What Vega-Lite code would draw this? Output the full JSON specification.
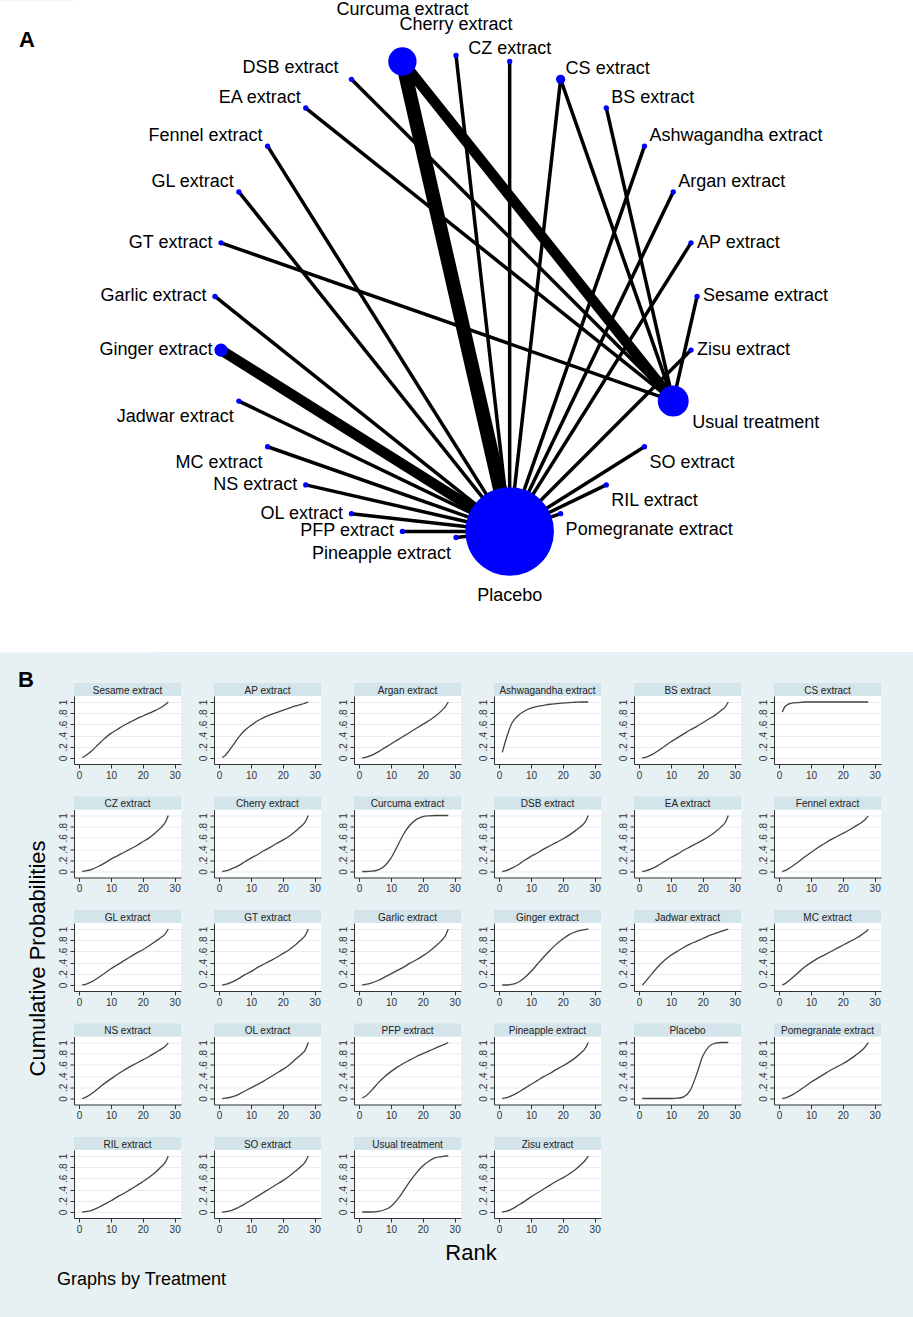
{
"$schema": "https://vega.github.io/schema/vega-lite/v6.json",
"background": "#e7f0f2",
"padding": {"left": 0, "top": 0, "right": 0, "bottom": 30},
"autosize": {"type": "pad"},
"columns": 1,
"align": "none",
"spacing": 16,
"config": {
  "view": {"stroke": null, "fill": "white"},
  "font": "Liberation Sans",
  "title": {"font": "Liberation Sans", "color": "#000000", "fontWeight": "normal"},
  "text": {"font": "Liberation Sans", "fontSize": 18, "color": "#000000"},
  "axis": {"labelOverlap": false, "labelBound": false}
},
"datasets": {
  "nodes": [
    {"id": "Cherry extract", "x": 0, "y": 1, "w": 3.6},
    {"id": "CZ extract", "x": 0.2225, "y": 0.9749, "w": 3.6},
    {"id": "CS extract", "x": 0.4339, "y": 0.901, "w": 11},
    {"id": "BS extract", "x": 0.6235, "y": 0.7818, "w": 3.6},
    {"id": "Ashwagandha extract", "x": 0.7818, "y": 0.6235, "w": 3.6},
    {"id": "Argan extract", "x": 0.901, "y": 0.4339, "w": 3.6},
    {"id": "AP extract", "x": 0.9749, "y": 0.2225, "w": 3.6},
    {"id": "Sesame extract", "x": 1, "y": 0, "w": 3.6},
    {"id": "Zisu extract", "x": 0.9749, "y": -0.2225, "w": 3.6},
    {"id": "Usual treatment", "x": 0.901, "y": -0.4339, "w": 122},
    {"id": "SO extract", "x": 0.7818, "y": -0.6235, "w": 3.6},
    {"id": "RIL extract", "x": 0.6235, "y": -0.7818, "w": 3.6},
    {"id": "Pomegranate extract", "x": 0.4339, "y": -0.901, "w": 3.6},
    {"id": "Placebo", "x": 0.2225, "y": -0.9749, "w": 1000},
    {"id": "Pineapple extract", "x": 0, "y": -1, "w": 3.6},
    {"id": "PFP extract", "x": -0.2225, "y": -0.9749, "w": 3.6},
    {"id": "OL extract", "x": -0.4339, "y": -0.901, "w": 3.6},
    {"id": "NS extract", "x": -0.6235, "y": -0.7818, "w": 3.6},
    {"id": "MC extract", "x": -0.7818, "y": -0.6235, "w": 3.6},
    {"id": "Jadwar extract", "x": -0.901, "y": -0.4339, "w": 3.6},
    {"id": "Ginger extract", "x": -0.9749, "y": -0.2225, "w": 22.5},
    {"id": "Garlic extract", "x": -1, "y": 0, "w": 3.6},
    {"id": "GT extract", "x": -0.9749, "y": 0.2225, "w": 3.6},
    {"id": "GL extract", "x": -0.901, "y": 0.4339, "w": 3.6},
    {"id": "Fennel extract", "x": -0.7818, "y": 0.6235, "w": 3.6},
    {"id": "EA extract", "x": -0.6235, "y": 0.7818, "w": 3.6},
    {"id": "DSB extract", "x": -0.4339, "y": 0.901, "w": 3.6},
    {"id": "Curcuma extract", "x": -0.2225, "y": 0.9749, "w": 102}
  ],
  "edges": [
    {"s": "Curcuma extract", "d": "Placebo", "k": 4},
    {"s": "Cherry extract", "d": "Placebo", "k": 1},
    {"s": "CZ extract", "d": "Placebo", "k": 1},
    {"s": "CS extract", "d": "Placebo", "k": 1},
    {"s": "Ashwagandha extract", "d": "Placebo", "k": 1},
    {"s": "Argan extract", "d": "Placebo", "k": 1},
    {"s": "AP extract", "d": "Placebo", "k": 1},
    {"s": "Zisu extract", "d": "Placebo", "k": 1},
    {"s": "SO extract", "d": "Placebo", "k": 1},
    {"s": "RIL extract", "d": "Placebo", "k": 1},
    {"s": "Pomegranate extract", "d": "Placebo", "k": 1},
    {"s": "Pineapple extract", "d": "Placebo", "k": 1},
    {"s": "PFP extract", "d": "Placebo", "k": 1},
    {"s": "OL extract", "d": "Placebo", "k": 1},
    {"s": "NS extract", "d": "Placebo", "k": 1},
    {"s": "MC extract", "d": "Placebo", "k": 1},
    {"s": "Jadwar extract", "d": "Placebo", "k": 1},
    {"s": "Ginger extract", "d": "Placebo", "k": 3},
    {"s": "Garlic extract", "d": "Placebo", "k": 1},
    {"s": "GL extract", "d": "Placebo", "k": 1},
    {"s": "Fennel extract", "d": "Placebo", "k": 1},
    {"s": "Curcuma extract", "d": "Usual treatment", "k": 3},
    {"s": "DSB extract", "d": "Usual treatment", "k": 1},
    {"s": "EA extract", "d": "Usual treatment", "k": 1},
    {"s": "GT extract", "d": "Usual treatment", "k": 1},
    {"s": "CS extract", "d": "Usual treatment", "k": 1},
    {"s": "BS extract", "d": "Usual treatment", "k": 1},
    {"s": "Sesame extract", "d": "Usual treatment", "k": 1}
  ],
  "curves": [
{"t":"Sesame extract","r":1,"p":0.01},{"t":"Sesame extract","r":2,"p":0.04},{"t":"Sesame extract","r":4,"p":0.13},{"t":"Sesame extract","r":6,"p":0.24},{"t":"Sesame extract","r":8,"p":0.35},{"t":"Sesame extract","r":10,"p":0.44},{"t":"Sesame extract","r":12,"p":0.51},{"t":"Sesame extract","r":14,"p":0.58},{"t":"Sesame extract","r":16,"p":0.64},{"t":"Sesame extract","r":18,"p":0.7},{"t":"Sesame extract","r":20,"p":0.75},{"t":"Sesame extract","r":22,"p":0.8},{"t":"Sesame extract","r":24,"p":0.85},{"t":"Sesame extract","r":26,"p":0.91},{"t":"Sesame extract","r":27,"p":0.95},{"t":"Sesame extract","r":28,"p":1},
{"t":"AP extract","r":1,"p":0.01},{"t":"AP extract","r":2,"p":0.05},{"t":"AP extract","r":4,"p":0.2},{"t":"AP extract","r":6,"p":0.36},{"t":"AP extract","r":8,"p":0.49},{"t":"AP extract","r":10,"p":0.58},{"t":"AP extract","r":12,"p":0.66},{"t":"AP extract","r":14,"p":0.72},{"t":"AP extract","r":16,"p":0.77},{"t":"AP extract","r":18,"p":0.81},{"t":"AP extract","r":20,"p":0.85},{"t":"AP extract","r":22,"p":0.89},{"t":"AP extract","r":24,"p":0.93},{"t":"AP extract","r":26,"p":0.96},{"t":"AP extract","r":27,"p":0.98},{"t":"AP extract","r":28,"p":1},
{"t":"Argan extract","r":1,"p":0},{"t":"Argan extract","r":2,"p":0.01},{"t":"Argan extract","r":4,"p":0.05},{"t":"Argan extract","r":6,"p":0.11},{"t":"Argan extract","r":8,"p":0.18},{"t":"Argan extract","r":10,"p":0.25},{"t":"Argan extract","r":12,"p":0.32},{"t":"Argan extract","r":14,"p":0.39},{"t":"Argan extract","r":16,"p":0.46},{"t":"Argan extract","r":18,"p":0.53},{"t":"Argan extract","r":20,"p":0.6},{"t":"Argan extract","r":22,"p":0.67},{"t":"Argan extract","r":24,"p":0.75},{"t":"Argan extract","r":26,"p":0.85},{"t":"Argan extract","r":27,"p":0.91},{"t":"Argan extract","r":28,"p":1},
{"t":"Ashwagandha extract","r":1,"p":0.1},{"t":"Ashwagandha extract","r":2,"p":0.3},{"t":"Ashwagandha extract","r":4,"p":0.62},{"t":"Ashwagandha extract","r":6,"p":0.76},{"t":"Ashwagandha extract","r":8,"p":0.84},{"t":"Ashwagandha extract","r":10,"p":0.89},{"t":"Ashwagandha extract","r":12,"p":0.92},{"t":"Ashwagandha extract","r":14,"p":0.94},{"t":"Ashwagandha extract","r":16,"p":0.96},{"t":"Ashwagandha extract","r":18,"p":0.97},{"t":"Ashwagandha extract","r":20,"p":0.98},{"t":"Ashwagandha extract","r":22,"p":0.99},{"t":"Ashwagandha extract","r":24,"p":0.995},{"t":"Ashwagandha extract","r":26,"p":1},{"t":"Ashwagandha extract","r":27,"p":1},{"t":"Ashwagandha extract","r":28,"p":1},
{"t":"BS extract","r":1,"p":0},{"t":"BS extract","r":2,"p":0.01},{"t":"BS extract","r":4,"p":0.06},{"t":"BS extract","r":6,"p":0.13},{"t":"BS extract","r":8,"p":0.21},{"t":"BS extract","r":10,"p":0.29},{"t":"BS extract","r":12,"p":0.36},{"t":"BS extract","r":14,"p":0.43},{"t":"BS extract","r":16,"p":0.5},{"t":"BS extract","r":18,"p":0.56},{"t":"BS extract","r":20,"p":0.63},{"t":"BS extract","r":22,"p":0.7},{"t":"BS extract","r":24,"p":0.77},{"t":"BS extract","r":26,"p":0.86},{"t":"BS extract","r":27,"p":0.91},{"t":"BS extract","r":28,"p":1},
{"t":"CS extract","r":1,"p":0.82},{"t":"CS extract","r":2,"p":0.93},{"t":"CS extract","r":4,"p":0.98},{"t":"CS extract","r":6,"p":0.99},{"t":"CS extract","r":8,"p":1},{"t":"CS extract","r":10,"p":1},{"t":"CS extract","r":12,"p":1},{"t":"CS extract","r":14,"p":1},{"t":"CS extract","r":16,"p":1},{"t":"CS extract","r":18,"p":1},{"t":"CS extract","r":20,"p":1},{"t":"CS extract","r":22,"p":1},{"t":"CS extract","r":24,"p":1},{"t":"CS extract","r":26,"p":1},{"t":"CS extract","r":27,"p":1},{"t":"CS extract","r":28,"p":1},
{"t":"CZ extract","r":1,"p":0},{"t":"CZ extract","r":2,"p":0.01},{"t":"CZ extract","r":4,"p":0.04},{"t":"CZ extract","r":6,"p":0.09},{"t":"CZ extract","r":8,"p":0.15},{"t":"CZ extract","r":10,"p":0.22},{"t":"CZ extract","r":12,"p":0.28},{"t":"CZ extract","r":14,"p":0.34},{"t":"CZ extract","r":16,"p":0.4},{"t":"CZ extract","r":18,"p":0.46},{"t":"CZ extract","r":20,"p":0.53},{"t":"CZ extract","r":22,"p":0.6},{"t":"CZ extract","r":24,"p":0.69},{"t":"CZ extract","r":26,"p":0.8},{"t":"CZ extract","r":27,"p":0.87},{"t":"CZ extract","r":28,"p":1},
{"t":"Cherry extract","r":1,"p":0},{"t":"Cherry extract","r":2,"p":0.01},{"t":"Cherry extract","r":4,"p":0.05},{"t":"Cherry extract","r":6,"p":0.1},{"t":"Cherry extract","r":8,"p":0.17},{"t":"Cherry extract","r":10,"p":0.24},{"t":"Cherry extract","r":12,"p":0.3},{"t":"Cherry extract","r":14,"p":0.37},{"t":"Cherry extract","r":16,"p":0.43},{"t":"Cherry extract","r":18,"p":0.5},{"t":"Cherry extract","r":20,"p":0.56},{"t":"Cherry extract","r":22,"p":0.63},{"t":"Cherry extract","r":24,"p":0.72},{"t":"Cherry extract","r":26,"p":0.82},{"t":"Cherry extract","r":27,"p":0.88},{"t":"Cherry extract","r":28,"p":1},
{"t":"Curcuma extract","r":1,"p":0},{"t":"Curcuma extract","r":2,"p":0},{"t":"Curcuma extract","r":4,"p":0.005},{"t":"Curcuma extract","r":6,"p":0.03},{"t":"Curcuma extract","r":8,"p":0.1},{"t":"Curcuma extract","r":10,"p":0.24},{"t":"Curcuma extract","r":12,"p":0.45},{"t":"Curcuma extract","r":14,"p":0.67},{"t":"Curcuma extract","r":16,"p":0.83},{"t":"Curcuma extract","r":18,"p":0.93},{"t":"Curcuma extract","r":20,"p":0.98},{"t":"Curcuma extract","r":22,"p":0.995},{"t":"Curcuma extract","r":24,"p":1},{"t":"Curcuma extract","r":26,"p":1},{"t":"Curcuma extract","r":27,"p":1},{"t":"Curcuma extract","r":28,"p":1},
{"t":"DSB extract","r":1,"p":0},{"t":"DSB extract","r":2,"p":0.01},{"t":"DSB extract","r":4,"p":0.06},{"t":"DSB extract","r":6,"p":0.12},{"t":"DSB extract","r":8,"p":0.2},{"t":"DSB extract","r":10,"p":0.27},{"t":"DSB extract","r":12,"p":0.33},{"t":"DSB extract","r":14,"p":0.4},{"t":"DSB extract","r":16,"p":0.46},{"t":"DSB extract","r":18,"p":0.52},{"t":"DSB extract","r":20,"p":0.58},{"t":"DSB extract","r":22,"p":0.65},{"t":"DSB extract","r":24,"p":0.73},{"t":"DSB extract","r":26,"p":0.82},{"t":"DSB extract","r":27,"p":0.88},{"t":"DSB extract","r":28,"p":1},
{"t":"EA extract","r":1,"p":0},{"t":"EA extract","r":2,"p":0.01},{"t":"EA extract","r":4,"p":0.05},{"t":"EA extract","r":6,"p":0.11},{"t":"EA extract","r":8,"p":0.18},{"t":"EA extract","r":10,"p":0.25},{"t":"EA extract","r":12,"p":0.31},{"t":"EA extract","r":14,"p":0.38},{"t":"EA extract","r":16,"p":0.44},{"t":"EA extract","r":18,"p":0.5},{"t":"EA extract","r":20,"p":0.56},{"t":"EA extract","r":22,"p":0.63},{"t":"EA extract","r":24,"p":0.71},{"t":"EA extract","r":26,"p":0.81},{"t":"EA extract","r":27,"p":0.87},{"t":"EA extract","r":28,"p":1},
{"t":"Fennel extract","r":1,"p":0},{"t":"Fennel extract","r":2,"p":0.02},{"t":"Fennel extract","r":4,"p":0.09},{"t":"Fennel extract","r":6,"p":0.17},{"t":"Fennel extract","r":8,"p":0.26},{"t":"Fennel extract","r":10,"p":0.34},{"t":"Fennel extract","r":12,"p":0.42},{"t":"Fennel extract","r":14,"p":0.49},{"t":"Fennel extract","r":16,"p":0.56},{"t":"Fennel extract","r":18,"p":0.62},{"t":"Fennel extract","r":20,"p":0.68},{"t":"Fennel extract","r":22,"p":0.74},{"t":"Fennel extract","r":24,"p":0.81},{"t":"Fennel extract","r":26,"p":0.88},{"t":"Fennel extract","r":27,"p":0.93},{"t":"Fennel extract","r":28,"p":0.99},
{"t":"GL extract","r":1,"p":0},{"t":"GL extract","r":2,"p":0.01},{"t":"GL extract","r":4,"p":0.06},{"t":"GL extract","r":6,"p":0.13},{"t":"GL extract","r":8,"p":0.21},{"t":"GL extract","r":10,"p":0.29},{"t":"GL extract","r":12,"p":0.36},{"t":"GL extract","r":14,"p":0.43},{"t":"GL extract","r":16,"p":0.5},{"t":"GL extract","r":18,"p":0.57},{"t":"GL extract","r":20,"p":0.63},{"t":"GL extract","r":22,"p":0.7},{"t":"GL extract","r":24,"p":0.78},{"t":"GL extract","r":26,"p":0.86},{"t":"GL extract","r":27,"p":0.91},{"t":"GL extract","r":28,"p":1},
{"t":"GT extract","r":1,"p":0},{"t":"GT extract","r":2,"p":0.01},{"t":"GT extract","r":4,"p":0.05},{"t":"GT extract","r":6,"p":0.11},{"t":"GT extract","r":8,"p":0.18},{"t":"GT extract","r":10,"p":0.24},{"t":"GT extract","r":12,"p":0.31},{"t":"GT extract","r":14,"p":0.37},{"t":"GT extract","r":16,"p":0.43},{"t":"GT extract","r":18,"p":0.49},{"t":"GT extract","r":20,"p":0.56},{"t":"GT extract","r":22,"p":0.63},{"t":"GT extract","r":24,"p":0.72},{"t":"GT extract","r":26,"p":0.82},{"t":"GT extract","r":27,"p":0.88},{"t":"GT extract","r":28,"p":1},
{"t":"Garlic extract","r":1,"p":0},{"t":"Garlic extract","r":2,"p":0.01},{"t":"Garlic extract","r":4,"p":0.04},{"t":"Garlic extract","r":6,"p":0.08},{"t":"Garlic extract","r":8,"p":0.14},{"t":"Garlic extract","r":10,"p":0.2},{"t":"Garlic extract","r":12,"p":0.26},{"t":"Garlic extract","r":14,"p":0.32},{"t":"Garlic extract","r":16,"p":0.39},{"t":"Garlic extract","r":18,"p":0.45},{"t":"Garlic extract","r":20,"p":0.52},{"t":"Garlic extract","r":22,"p":0.6},{"t":"Garlic extract","r":24,"p":0.69},{"t":"Garlic extract","r":26,"p":0.8},{"t":"Garlic extract","r":27,"p":0.87},{"t":"Garlic extract","r":28,"p":1},
{"t":"Ginger extract","r":1,"p":0},{"t":"Ginger extract","r":2,"p":0},{"t":"Ginger extract","r":4,"p":0.01},{"t":"Ginger extract","r":6,"p":0.05},{"t":"Ginger extract","r":8,"p":0.13},{"t":"Ginger extract","r":10,"p":0.24},{"t":"Ginger extract","r":12,"p":0.37},{"t":"Ginger extract","r":14,"p":0.5},{"t":"Ginger extract","r":16,"p":0.62},{"t":"Ginger extract","r":18,"p":0.73},{"t":"Ginger extract","r":20,"p":0.82},{"t":"Ginger extract","r":22,"p":0.9},{"t":"Ginger extract","r":24,"p":0.95},{"t":"Ginger extract","r":26,"p":0.98},{"t":"Ginger extract","r":27,"p":0.99},{"t":"Ginger extract","r":28,"p":1},
{"t":"Jadwar extract","r":1,"p":0},{"t":"Jadwar extract","r":2,"p":0.06},{"t":"Jadwar extract","r":4,"p":0.2},{"t":"Jadwar extract","r":6,"p":0.33},{"t":"Jadwar extract","r":8,"p":0.44},{"t":"Jadwar extract","r":10,"p":0.53},{"t":"Jadwar extract","r":12,"p":0.6},{"t":"Jadwar extract","r":14,"p":0.67},{"t":"Jadwar extract","r":16,"p":0.73},{"t":"Jadwar extract","r":18,"p":0.78},{"t":"Jadwar extract","r":20,"p":0.83},{"t":"Jadwar extract","r":22,"p":0.88},{"t":"Jadwar extract","r":24,"p":0.92},{"t":"Jadwar extract","r":26,"p":0.96},{"t":"Jadwar extract","r":27,"p":0.98},{"t":"Jadwar extract","r":28,"p":1},
{"t":"MC extract","r":1,"p":0},{"t":"MC extract","r":2,"p":0.03},{"t":"MC extract","r":4,"p":0.12},{"t":"MC extract","r":6,"p":0.22},{"t":"MC extract","r":8,"p":0.32},{"t":"MC extract","r":10,"p":0.4},{"t":"MC extract","r":12,"p":0.47},{"t":"MC extract","r":14,"p":0.53},{"t":"MC extract","r":16,"p":0.59},{"t":"MC extract","r":18,"p":0.65},{"t":"MC extract","r":20,"p":0.71},{"t":"MC extract","r":22,"p":0.77},{"t":"MC extract","r":24,"p":0.83},{"t":"MC extract","r":26,"p":0.9},{"t":"MC extract","r":27,"p":0.94},{"t":"MC extract","r":28,"p":0.99},
{"t":"NS extract","r":1,"p":0},{"t":"NS extract","r":2,"p":0.02},{"t":"NS extract","r":4,"p":0.09},{"t":"NS extract","r":6,"p":0.18},{"t":"NS extract","r":8,"p":0.27},{"t":"NS extract","r":10,"p":0.35},{"t":"NS extract","r":12,"p":0.43},{"t":"NS extract","r":14,"p":0.5},{"t":"NS extract","r":16,"p":0.57},{"t":"NS extract","r":18,"p":0.63},{"t":"NS extract","r":20,"p":0.69},{"t":"NS extract","r":22,"p":0.75},{"t":"NS extract","r":24,"p":0.82},{"t":"NS extract","r":26,"p":0.89},{"t":"NS extract","r":27,"p":0.93},{"t":"NS extract","r":28,"p":0.99},
{"t":"OL extract","r":1,"p":0},{"t":"OL extract","r":2,"p":0.005},{"t":"OL extract","r":4,"p":0.03},{"t":"OL extract","r":6,"p":0.07},{"t":"OL extract","r":8,"p":0.13},{"t":"OL extract","r":10,"p":0.19},{"t":"OL extract","r":12,"p":0.25},{"t":"OL extract","r":14,"p":0.31},{"t":"OL extract","r":16,"p":0.38},{"t":"OL extract","r":18,"p":0.45},{"t":"OL extract","r":20,"p":0.52},{"t":"OL extract","r":22,"p":0.6},{"t":"OL extract","r":24,"p":0.7},{"t":"OL extract","r":26,"p":0.8},{"t":"OL extract","r":27,"p":0.86},{"t":"OL extract","r":28,"p":1},
{"t":"PFP extract","r":1,"p":0.01},{"t":"PFP extract","r":2,"p":0.04},{"t":"PFP extract","r":4,"p":0.15},{"t":"PFP extract","r":6,"p":0.28},{"t":"PFP extract","r":8,"p":0.39},{"t":"PFP extract","r":10,"p":0.48},{"t":"PFP extract","r":12,"p":0.56},{"t":"PFP extract","r":14,"p":0.63},{"t":"PFP extract","r":16,"p":0.69},{"t":"PFP extract","r":18,"p":0.75},{"t":"PFP extract","r":20,"p":0.8},{"t":"PFP extract","r":22,"p":0.85},{"t":"PFP extract","r":24,"p":0.9},{"t":"PFP extract","r":26,"p":0.95},{"t":"PFP extract","r":27,"p":0.97},{"t":"PFP extract","r":28,"p":1},
{"t":"Pineapple extract","r":1,"p":0},{"t":"Pineapple extract","r":2,"p":0.01},{"t":"Pineapple extract","r":4,"p":0.05},{"t":"Pineapple extract","r":6,"p":0.11},{"t":"Pineapple extract","r":8,"p":0.18},{"t":"Pineapple extract","r":10,"p":0.25},{"t":"Pineapple extract","r":12,"p":0.32},{"t":"Pineapple extract","r":14,"p":0.39},{"t":"Pineapple extract","r":16,"p":0.45},{"t":"Pineapple extract","r":18,"p":0.52},{"t":"Pineapple extract","r":20,"p":0.58},{"t":"Pineapple extract","r":22,"p":0.65},{"t":"Pineapple extract","r":24,"p":0.73},{"t":"Pineapple extract","r":26,"p":0.83},{"t":"Pineapple extract","r":27,"p":0.89},{"t":"Pineapple extract","r":28,"p":1},
{"t":"Placebo","r":1,"p":0},{"t":"Placebo","r":2,"p":0},{"t":"Placebo","r":4,"p":0},{"t":"Placebo","r":6,"p":0},{"t":"Placebo","r":8,"p":0},{"t":"Placebo","r":10,"p":0},{"t":"Placebo","r":12,"p":0.005},{"t":"Placebo","r":14,"p":0.03},{"t":"Placebo","r":16,"p":0.14},{"t":"Placebo","r":18,"p":0.42},{"t":"Placebo","r":20,"p":0.76},{"t":"Placebo","r":22,"p":0.93},{"t":"Placebo","r":24,"p":0.99},{"t":"Placebo","r":26,"p":1},{"t":"Placebo","r":27,"p":1},{"t":"Placebo","r":28,"p":1},
{"t":"Pomegranate extract","r":1,"p":0},{"t":"Pomegranate extract","r":2,"p":0.01},{"t":"Pomegranate extract","r":4,"p":0.06},{"t":"Pomegranate extract","r":6,"p":0.13},{"t":"Pomegranate extract","r":8,"p":0.21},{"t":"Pomegranate extract","r":10,"p":0.29},{"t":"Pomegranate extract","r":12,"p":0.36},{"t":"Pomegranate extract","r":14,"p":0.43},{"t":"Pomegranate extract","r":16,"p":0.5},{"t":"Pomegranate extract","r":18,"p":0.56},{"t":"Pomegranate extract","r":20,"p":0.62},{"t":"Pomegranate extract","r":22,"p":0.69},{"t":"Pomegranate extract","r":24,"p":0.77},{"t":"Pomegranate extract","r":26,"p":0.86},{"t":"Pomegranate extract","r":27,"p":0.92},{"t":"Pomegranate extract","r":28,"p":1},
{"t":"RIL extract","r":1,"p":0},{"t":"RIL extract","r":2,"p":0.005},{"t":"RIL extract","r":4,"p":0.03},{"t":"RIL extract","r":6,"p":0.08},{"t":"RIL extract","r":8,"p":0.14},{"t":"RIL extract","r":10,"p":0.2},{"t":"RIL extract","r":12,"p":0.27},{"t":"RIL extract","r":14,"p":0.33},{"t":"RIL extract","r":16,"p":0.4},{"t":"RIL extract","r":18,"p":0.47},{"t":"RIL extract","r":20,"p":0.54},{"t":"RIL extract","r":22,"p":0.62},{"t":"RIL extract","r":24,"p":0.71},{"t":"RIL extract","r":26,"p":0.82},{"t":"RIL extract","r":27,"p":0.88},{"t":"RIL extract","r":28,"p":1},
{"t":"SO extract","r":1,"p":0},{"t":"SO extract","r":2,"p":0.005},{"t":"SO extract","r":4,"p":0.03},{"t":"SO extract","r":6,"p":0.08},{"t":"SO extract","r":8,"p":0.14},{"t":"SO extract","r":10,"p":0.21},{"t":"SO extract","r":12,"p":0.28},{"t":"SO extract","r":14,"p":0.35},{"t":"SO extract","r":16,"p":0.42},{"t":"SO extract","r":18,"p":0.49},{"t":"SO extract","r":20,"p":0.56},{"t":"SO extract","r":22,"p":0.64},{"t":"SO extract","r":24,"p":0.73},{"t":"SO extract","r":26,"p":0.83},{"t":"SO extract","r":27,"p":0.89},{"t":"SO extract","r":28,"p":1},
{"t":"Usual treatment","r":1,"p":0},{"t":"Usual treatment","r":2,"p":0},{"t":"Usual treatment","r":4,"p":0},{"t":"Usual treatment","r":6,"p":0.01},{"t":"Usual treatment","r":8,"p":0.04},{"t":"Usual treatment","r":10,"p":0.1},{"t":"Usual treatment","r":12,"p":0.22},{"t":"Usual treatment","r":14,"p":0.38},{"t":"Usual treatment","r":16,"p":0.55},{"t":"Usual treatment","r":18,"p":0.7},{"t":"Usual treatment","r":20,"p":0.82},{"t":"Usual treatment","r":22,"p":0.91},{"t":"Usual treatment","r":24,"p":0.97},{"t":"Usual treatment","r":26,"p":0.99},{"t":"Usual treatment","r":27,"p":1},{"t":"Usual treatment","r":28,"p":1},
{"t":"Zisu extract","r":1,"p":0},{"t":"Zisu extract","r":2,"p":0.01},{"t":"Zisu extract","r":4,"p":0.05},{"t":"Zisu extract","r":6,"p":0.12},{"t":"Zisu extract","r":8,"p":0.19},{"t":"Zisu extract","r":10,"p":0.27},{"t":"Zisu extract","r":12,"p":0.34},{"t":"Zisu extract","r":14,"p":0.41},{"t":"Zisu extract","r":16,"p":0.48},{"t":"Zisu extract","r":18,"p":0.55},{"t":"Zisu extract","r":20,"p":0.61},{"t":"Zisu extract","r":22,"p":0.68},{"t":"Zisu extract","r":24,"p":0.76},{"t":"Zisu extract","r":26,"p":0.86},{"t":"Zisu extract","r":27,"p":0.92},{"t":"Zisu extract","r":28,"p":1}
  ]
},
"concat": [
  {
    "width": 840,
    "height": 652,
    "view": {"fill": "white", "stroke": null},
    "title": {"text": "A", "orient": "top", "anchor": "start", "frame": "group", "fontSize": 22, "fontWeight": "bold", "baseline": "alphabetic", "offset": -69, "dx": -55},
    "data": {"name": "nodes"},
    "encoding": {
      "x": {"field": "x", "type": "quantitative", "scale": {"domain": [-1.585, 1.9], "nice": false, "zero": false}, "axis": null},
      "y": {"field": "y", "type": "quantitative", "scale": {"domain": [-1.475, 1.23], "nice": false, "zero": false},
        "axis": {"orient": "left", "title": null, "domain": true, "domainColor": "#ffffff", "domainWidth": 156, "ticks": false, "labels": false, "grid": false, "zindex": 0}}
    },
    "layer": [
      {
        "data": {"name": "edges"},
        "transform": [
          {"lookup": "s", "from": {"data": {"name": "nodes"}, "key": "id", "fields": ["x", "y"]}, "as": ["sx", "sy"]},
          {"lookup": "d", "from": {"data": {"name": "nodes"}, "key": "id", "fields": ["x", "y"]}, "as": ["tx", "ty"]}
        ],
        "mark": {"type": "rule", "color": "#000000", "strokeCap": "butt"},
        "encoding": {
          "x": {"field": "sx", "type": "quantitative"},
          "y": {"field": "sy", "type": "quantitative"},
          "x2": {"field": "tx"},
          "y2": {"field": "ty"},
          "strokeWidth": {"field": "k", "type": "quantitative", "scale": {"domain": [0, 4], "range": [0, 14]}, "legend": null}
        }
      },
      {
        "mark": {"type": "circle", "color": "#0000ff", "opacity": 1},
        "encoding": {
          "size": {"field": "w", "type": "quantitative", "scale": {"domain": [0, 1000], "range": [0, 7854]}, "legend": null}
        }
      },
      {"transform": [{"filter": {"field": "id", "oneOf": ["Fennel extract", "GL extract", "EA extract"]}}],
       "mark": {"type": "text", "align": "right", "baseline": "middle", "dx": -5, "dy": -10},
       "encoding": {"text": {"field": "id"}}},
      {"transform": [{"filter": {"field": "id", "oneOf": ["DSB extract"]}}],
       "mark": {"type": "text", "align": "right", "baseline": "middle", "dx": -13, "dy": -11},
       "encoding": {"text": {"field": "id"}}},
      {"transform": [{"filter": {"field": "id", "oneOf": ["GT extract", "Garlic extract", "Ginger extract", "NS extract", "OL extract", "PFP extract"]}}],
       "mark": {"type": "text", "align": "right", "baseline": "middle", "dx": -8.5, "dy": 0},
       "encoding": {"text": {"field": "id"}}},
      {"transform": [{"filter": {"field": "id", "oneOf": ["Jadwar extract", "MC extract", "Pineapple extract"]}}],
       "mark": {"type": "text", "align": "right", "baseline": "middle", "dx": -5, "dy": 16},
       "encoding": {"text": {"field": "id"}}},
      {"transform": [{"filter": {"field": "id", "oneOf": ["CS extract", "BS extract", "Ashwagandha extract", "Argan extract"]}}],
       "mark": {"type": "text", "align": "left", "baseline": "middle", "dx": 5, "dy": -10},
       "encoding": {"text": {"field": "id"}}},
      {"transform": [{"filter": {"field": "id", "oneOf": ["AP extract", "Sesame extract", "Zisu extract"]}}],
       "mark": {"type": "text", "align": "left", "baseline": "middle", "dx": 6, "dy": 0},
       "encoding": {"text": {"field": "id"}}},
      {"transform": [{"filter": {"field": "id", "oneOf": ["Usual treatment"]}}],
       "mark": {"type": "text", "align": "left", "baseline": "middle", "dx": 19, "dy": 22},
       "encoding": {"text": {"field": "id"}}},
      {"transform": [{"filter": {"field": "id", "oneOf": ["SO extract", "RIL extract", "Pomegranate extract"]}}],
       "mark": {"type": "text", "align": "left", "baseline": "middle", "dx": 5, "dy": 16},
       "encoding": {"text": {"field": "id"}}},
      {"transform": [{"filter": {"field": "id", "oneOf": ["Curcuma extract"]}}],
       "mark": {"type": "text", "align": "center", "baseline": "middle", "dy": -51},
       "encoding": {"text": {"field": "id"}}},
      {"transform": [{"filter": {"field": "id", "oneOf": ["Cherry extract"]}}],
       "mark": {"type": "text", "align": "center", "baseline": "middle", "dy": -30},
       "encoding": {"text": {"field": "id"}}},
      {"transform": [{"filter": {"field": "id", "oneOf": ["CZ extract"]}}],
       "mark": {"type": "text", "align": "center", "baseline": "middle", "dy": -12},
       "encoding": {"text": {"field": "id"}}},
      {"transform": [{"filter": {"field": "id", "oneOf": ["Placebo"]}}],
       "mark": {"type": "text", "align": "center", "baseline": "middle", "dy": 65},
       "encoding": {"text": {"field": "id"}}}
    ]
  },
  {
    "title": {"text": " ", "orient": "left", "fontSize": 2, "offset": 15},
    "vconcat": [
      {
        "title": {"text": "B", "orient": "top", "anchor": "start", "fontSize": 22, "fontWeight": "bold", "baseline": "alphabetic", "offset": -26, "dx": -9},
        "vconcat": [
          {
            "title": {"text": "Graphs by Treatment", "orient": "bottom", "anchor": "start", "fontSize": 18, "fontWeight": "normal", "offset": 7, "dx": 30},
            "vconcat": [
              {
                "title": {"text": "Rank", "orient": "bottom", "anchor": "middle", "fontSize": 22, "fontWeight": "normal", "offset": 9, "dx": 17},
                "vconcat": [
                  {
                    "data": {"name": "curves"},
                    "title": {"text": "Cumulative Probabilities", "orient": "left", "anchor": "middle", "fontSize": 22, "fontWeight": "normal", "offset": 8},
                    "facet": {"field": "t", "type": "nominal", "title": null,
                      "sort": ["Sesame extract", "AP extract", "Argan extract", "Ashwagandha extract", "BS extract", "CS extract", "CZ extract", "Cherry extract", "Curcuma extract", "DSB extract", "EA extract", "Fennel extract", "GL extract", "GT extract", "Garlic extract", "Ginger extract", "Jadwar extract", "MC extract", "NS extract", "OL extract", "PFP extract", "Pineapple extract", "Placebo", "Pomegranate extract", "RIL extract", "SO extract", "Usual treatment", "Zisu extract"],
                      "header": {"title": null, "labelFontSize": 10, "labelColor": "#222222", "labelFont": "Liberation Sans", "labelBaseline": "middle", "labelPadding": -18}},
                    "columns": 6,
                    "bounds": "flush",
                    "spacing": {"row": 45.5, "column": 33},
                    "resolve": {"axis": {"x": "independent", "y": "independent"}},
                    "spec": {
                      "width": 107,
                      "height": 68,
                      "layer": [
                        {
                          "transform": [{"aggregate": [{"op": "count", "as": "n"}], "groupby": ["t"]}],
                          "mark": {"type": "rect", "fill": "#d3e4ea"},
                          "encoding": {
                            "x": {"datum": -1.6, "type": "quantitative", "axis": {"title": null, "values": [0, 10, 20, 30], "labelOverlap": false}},
                            "x2": {"datum": 32},
                            "y": {"datum": 1.107, "type": "quantitative", "axis": {"title": null, "values": [0, 0.2, 0.4, 0.6, 0.8, 1], "labelOverlap": false}},
                            "y2": {"datum": 1.34}
                          }
                        },
                        {
                          "mark": {"type": "line", "color": "#444444", "strokeWidth": 1.3, "interpolate": "monotone"},
                          "encoding": {
                            "x": {"field": "r", "type": "quantitative",
                              "scale": {"domain": [-1.6, 32], "nice": false, "zero": false},
                              "axis": {"title": null, "values": [0, 10, 20, 30], "grid": false, "domainColor": "#333333", "tickColor": "#333333", "tickSize": 4, "labelFontSize": 10, "labelColor": "#333333", "labelPadding": 2, "labelFlush": false, "labelOverlap": false}},
                            "y": {"field": "p", "type": "quantitative",
                              "scale": {"domain": [-0.107, 1.107], "nice": false, "zero": false},
                              "axis": {"title": null, "values": [0, 0.2, 0.4, 0.6, 0.8, 1], "grid": true, "gridColor": "#e4edf0", "domainColor": "#333333", "tickColor": "#333333", "tickSize": 4, "labelFontSize": 10, "labelColor": "#333333", "labelPadding": 2, "labelAngle": -90, "labelAlign": "center", "labelBaseline": "bottom", "labelFlush": false, "labelOverlap": false,
                                "labelExpr": "datum.value == 0 ? '0' : datum.value == 1 ? '1' : replace(format(datum.value, '.1f'), '0.', '.')"}}
                          }
                        }
                      ]
                    }
                  }
                ]
              }
            ]
          }
        ]
      }
    ]
  }
]
}
